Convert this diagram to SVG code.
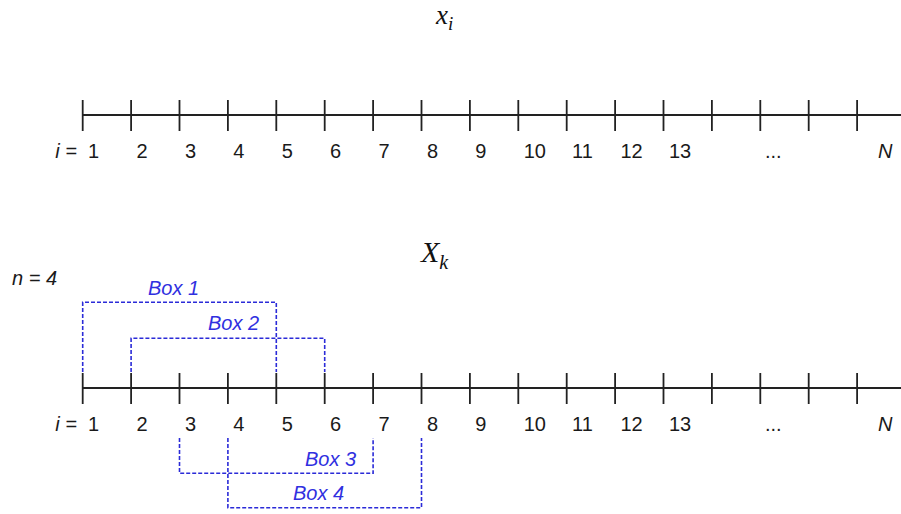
<svg xmlns="http://www.w3.org/2000/svg" width="901" height="514" viewBox="0 0 901 514">
<style>
.axis{stroke:#222;stroke-width:1.8;fill:none}
.tick{stroke:#222;stroke-width:1.8}
.num{font-family:"Liberation Sans",Arial,sans-serif;font-size:20px;fill:#1a1a1a}
.it{font-style:italic}
.math{font-family:"Liberation Serif","DejaVu Serif",serif;font-style:italic;fill:#111}
.box{stroke:#2b2bd8;stroke-width:1.6;stroke-dasharray:4 2;fill:none}
.boxlbl{font-family:"Liberation Sans",Arial,sans-serif;font-size:20px;font-style:italic;fill:#3030e0}
</style>
<defs>
<g id="ticks">
<path class="tick" d="M82.7,-15v31M131.1,-15v31M179.5,-15v31M227.9,-15v31M276.3,-15v31M324.7,-15v31M373.1,-15v31M421.5,-15v31M469.9,-15v31M518.3,-15v31M566.7,-15v31M615.1,-15v31M663.5,-15v31M711.9,-15v31M760.3,-15v31M808.7,-15v31M857.1,-15v31"/>
<line class="axis" x1="82.7" y1="0" x2="901" y2="0"/>
</g>
<g id="labels">
<text class="num it" x="77" y="0" text-anchor="end">i =</text>
<text class="num" x="88" y="0">1</text>
<text class="num" x="136.5" y="0">2</text>
<text class="num" x="185" y="0">3</text>
<text class="num" x="233.3" y="0">4</text>
<text class="num" x="281.7" y="0">5</text>
<text class="num" x="330" y="0">6</text>
<text class="num" x="378.5" y="0">7</text>
<text class="num" x="427" y="0">8</text>
<text class="num" x="475.3" y="0">9</text>
<text class="num" x="523.7" y="0">10</text>
<text class="num" x="572" y="0">11</text>
<text class="num" x="620.5" y="0">12</text>
<text class="num" x="668.9" y="0">13</text>
<text class="num" x="765" y="0">...</text>
<text class="num it" x="878" y="0">N</text>
</g>
</defs>
<g id="top-axis">
<text class="math" x="436" y="24" font-size="27">x<tspan font-size="19" dy="6">i</tspan></text>
<use href="#ticks" transform="translate(0,115)"/>
<use href="#labels" transform="translate(0,158)"/>
</g>
<g id="bottom-axis">
<text class="math" x="421" y="262" font-size="30">X<tspan font-size="20" dy="7">k</tspan></text>
<text class="num it" x="12" y="285">n = 4</text>
<use href="#ticks" transform="translate(0,388)"/>
<use href="#labels" transform="translate(0,431)"/>
</g>
<g id="box1">
<path class="box" d="M82.7,372V302.3H276.3V372"/>
<text class="boxlbl" x="148" y="295">Box 1</text>
</g>
<g id="box2">
<path class="box" d="M131.1,372V338.3H324.7V372"/>
<text class="boxlbl" x="208" y="330">Box 2</text>
</g>
<g id="box3">
<path class="box" d="M179.5,438V473.3H373.1V438"/>
<text class="boxlbl" x="305" y="466">Box 3</text>
</g>
<g id="box4">
<path class="box" d="M227.9,438V507.7H421.5V438"/>
<text class="boxlbl" x="293" y="500">Box 4</text>
</g>
</svg>
